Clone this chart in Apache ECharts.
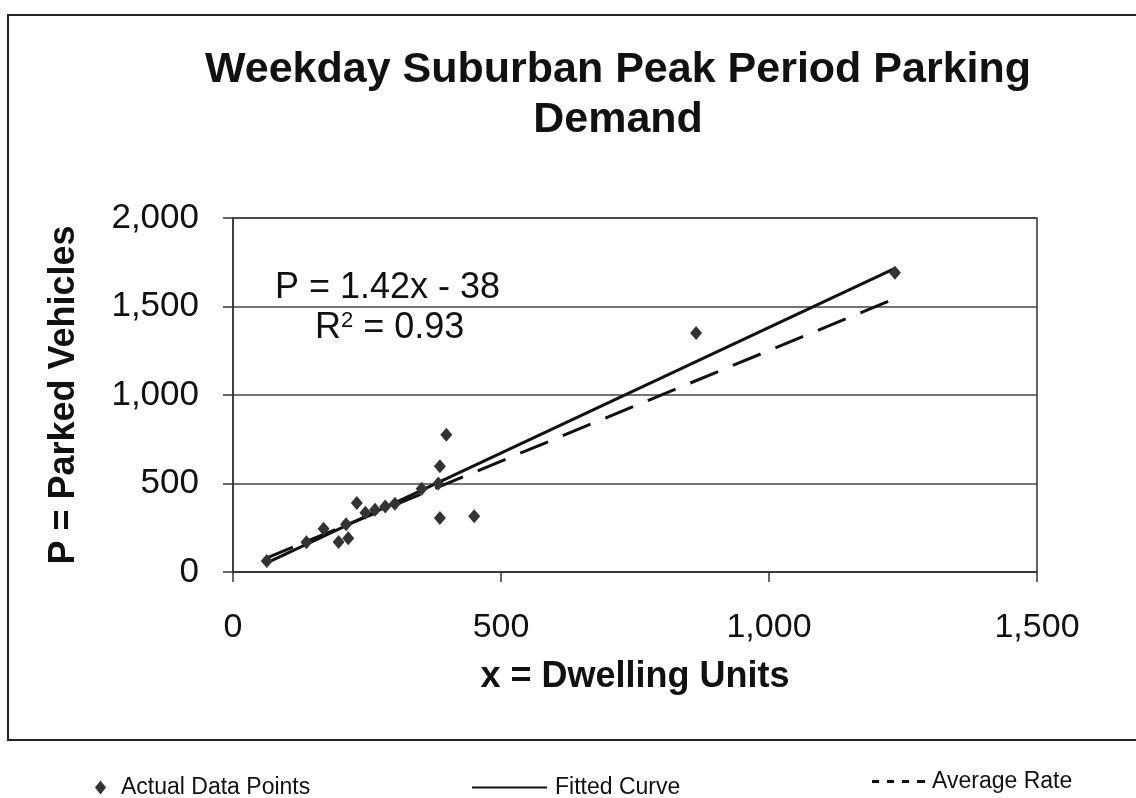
<!DOCTYPE html>
<html>
<head>
<meta charset="utf-8">
<script src="https://cdn.jsdelivr.net/npm/echarts@6/dist/echarts.min.js"></script>
<style>
  html, body { margin: 0; padding: 0; background: #fff; }
  #chart { width: 1136px; height: 798px; }
</style>
</head>
<body>
<div id="chart"></div>
<script>
// data
var xTicks = [0, 500, 1000, 1500];
var yTicks = [0, 500, 1000, 1500, 2000];

// actual data points [dwelling units, parked vehicles]
var actualPoints = [
  [63, 62], [137, 168], [169, 245], [197, 170], [215, 190], [211, 270],
  [231, 390], [247, 335], [265, 352], [284, 370], [302, 385], [352, 470],
  [383, 500], [386, 597], [398, 775], [386, 305], [450, 315],
  [864, 1350], [1235, 1690]
];
// end points of the fitted curve P = 1.42x - 38
var fittedCurve = [[60, 47], [1235, 1716]];
// end points of the average rate line
var averageRate = [[60, 76], [1235, 1545]];

var fontFam = '"Liberation Sans", Arial, sans-serif';

var chart = echarts.init(document.getElementById('chart'));

var option = {
  backgroundColor: '#fff',
  animation: false,
  title: {
    text: 'Weekday Suburban Peak Period Parking\nDemand',
    left: 613,
    top: 40,
    textAlign: 'center',
    textStyle: {
      fontFamily: fontFam,
      fontSize: 43,
      fontWeight: 'bold',
      color: '#111',
      lineHeight: 50
    }
  },
  grid: {
    left: 233,
    right: 99,
    top: 218,
    bottom: 226,
    show: true,
    borderColor: '#333',
    borderWidth: 1.5
  },
  legend: [
    {
      data: [{ name: 'Actual Data Points', icon: 'diamond' }],
      left: 90, top: 771,
      itemWidth: 11, itemHeight: 14, itemGap: 0,
      textStyle: { fontFamily: fontFam, fontSize: 23, color: '#111', padding: [0, 0, 0, 10] }
    },
    {
      data: [{ name: 'Fitted Curve', icon: 'rect' }],
      left: 467, top: 771,
      itemWidth: 75, itemHeight: 2,
      textStyle: { fontFamily: fontFam, fontSize: 23, color: '#111', padding: [0, 0, 0, 3] }
    },
    {
      data: [{ name: 'Average Rate', icon: 'path://M0,0h7v3h-7zM15,0h7v3h-7zM30,0h7v3h-7zM45,0h8v3h-8z' }],
      left: 867, top: 765,
      itemWidth: 53, itemHeight: 3,
      textStyle: { fontFamily: fontFam, fontSize: 23, color: '#111', padding: [0, 0, 0, 2] }
    }
  ],
  xAxis: {
    type: 'value',
    min: 0,
    max: 1500,
    interval: 500,
    name: 'x = Dwelling Units',
    nameLocation: 'middle',
    nameGap: 87,
    nameTextStyle: { fontFamily: fontFam, fontSize: 36, fontWeight: 'bold', color: '#111' },
    axisLine: { show: true, lineStyle: { color: '#333', width: 1.5 } },
    axisTick: { show: true, length: 10, lineStyle: { color: '#333', width: 1.5 } },
    splitLine: { show: false },
    axisLabel: {
      margin: 39,
      fontFamily: fontFam,
      fontSize: 34,
      color: '#111',
      customValues: xTicks,
      formatter: function (v) { return v.toLocaleString('en-US'); }
    }
  },
  yAxis: {
    type: 'value',
    min: 0,
    max: 2000,
    interval: 500,
    name: 'P = Parked Vehicles',
    nameLocation: 'middle',
    nameGap: 151,
    nameTextStyle: { fontFamily: fontFam, fontSize: 36, fontWeight: 'bold', color: '#111' },
    axisLine: { show: true, lineStyle: { color: '#333', width: 1.5 } },
    axisTick: { show: true, length: 10, lineStyle: { color: '#333', width: 1.5 } },
    splitLine: { show: true, lineStyle: { color: '#444', width: 1.5 } },
    axisLabel: {
      margin: 34,
      fontFamily: fontFam,
      fontSize: 35,
      color: '#111',
      customValues: yTicks,
      formatter: function (v) { return v.toLocaleString('en-US'); }
    }
  },
  series: [
    {
      name: 'Average Rate',
      type: 'line',
      data: averageRate,
      symbol: 'none',
      lineStyle: { color: '#111', width: 3, type: [30, 16] },
      itemStyle: { color: '#111' },
      z: 2
    },
    {
      name: 'Fitted Curve',
      type: 'line',
      data: fittedCurve,
      symbol: 'none',
      lineStyle: { color: '#111', width: 3 },
      itemStyle: { color: '#111' },
      z: 3
    },
    {
      name: 'Actual Data Points',
      type: 'scatter',
      data: actualPoints,
      symbol: 'diamond',
      symbolSize: [12, 14],
      itemStyle: { color: '#333', opacity: 1 },
      z: 4
    }
  ],
  graphic: [
    {
      type: 'rect',
      silent: true,
      shape: { x: 8, y: 15, width: 1140, height: 725 },
      style: { fill: 'none', stroke: '#222', lineWidth: 2 },
      z: -1
    },
    {
      type: 'text',
      left: 275,
      top: 270,
      style: { text: 'P = 1.42x - 38', font: '36px "Liberation Sans", Arial, sans-serif', fill: '#111' }
    },
    {
      type: 'text',
      left: 315,
      top: 310,
      style: {
        text: 'R{s|2} = 0.93',
        font: '36px "Liberation Sans", Arial, sans-serif',
        fill: '#111',
        rich: {
          s: { fontSize: 22, verticalAlign: 'top', padding: [0, 0, 14, 0], fontFamily: fontFam, fill: '#111' }
        }
      }
    }
  ]
};

chart.setOption(option);
</script>
</body>
</html>
